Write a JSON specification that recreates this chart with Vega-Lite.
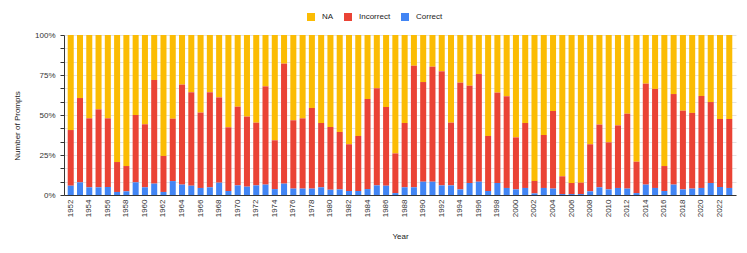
{
  "$schema": "https://vega.github.io/schema/vega-lite/v6.json",
  "width": 672,
  "height": 160,
  "autosize": {"type": "none"},
  "padding": {"left": 64, "top": 35, "right": 11, "bottom": 58},
  "background": "white",
  "config": {
    "font": "Liberation Sans",
    "view": {"stroke": null}
  },
  "data": {
    "values": [
      {"year": 1952, "Correct": 5.8, "Incorrect": 34.8, "NA": 59.4},
      {"year": 1953, "Correct": 7.9, "Incorrect": 52.7, "NA": 39.4},
      {"year": 1954, "Correct": 4.8, "Incorrect": 43.1, "NA": 52.1},
      {"year": 1955, "Correct": 4.8, "Incorrect": 48.7, "NA": 46.5},
      {"year": 1956, "Correct": 5.0, "Incorrect": 42.9, "NA": 52.1},
      {"year": 1957, "Correct": 1.9, "Incorrect": 18.7, "NA": 79.4},
      {"year": 1958, "Correct": 2.3, "Incorrect": 15.8, "NA": 81.9},
      {"year": 1959, "Correct": 7.9, "Incorrect": 42.1, "NA": 50.0},
      {"year": 1960, "Correct": 4.8, "Incorrect": 39.4, "NA": 55.8},
      {"year": 1961, "Correct": 7.1, "Incorrect": 64.8, "NA": 28.1},
      {"year": 1962, "Correct": 1.9, "Incorrect": 22.5, "NA": 75.6},
      {"year": 1963, "Correct": 8.7, "Incorrect": 39.0, "NA": 52.3},
      {"year": 1964, "Correct": 6.5, "Incorrect": 62.5, "NA": 31.0},
      {"year": 1965, "Correct": 5.8, "Incorrect": 58.4, "NA": 35.8},
      {"year": 1966, "Correct": 4.4, "Incorrect": 47.1, "NA": 48.5},
      {"year": 1967, "Correct": 4.8, "Incorrect": 59.4, "NA": 35.8},
      {"year": 1968, "Correct": 7.7, "Incorrect": 53.3, "NA": 39.0},
      {"year": 1969, "Correct": 2.5, "Incorrect": 39.8, "NA": 57.7},
      {"year": 1970, "Correct": 6.0, "Incorrect": 49.2, "NA": 44.8},
      {"year": 1971, "Correct": 5.2, "Incorrect": 43.8, "NA": 51.0},
      {"year": 1972, "Correct": 6.0, "Incorrect": 39.2, "NA": 54.8},
      {"year": 1973, "Correct": 6.5, "Incorrect": 61.4, "NA": 32.1},
      {"year": 1974, "Correct": 3.7, "Incorrect": 30.5, "NA": 65.8},
      {"year": 1975, "Correct": 7.1, "Incorrect": 75.0, "NA": 17.9},
      {"year": 1976, "Correct": 4.0, "Incorrect": 42.7, "NA": 53.3},
      {"year": 1977, "Correct": 4.0, "Incorrect": 43.9, "NA": 52.1},
      {"year": 1978, "Correct": 4.0, "Incorrect": 50.4, "NA": 45.6},
      {"year": 1979, "Correct": 4.8, "Incorrect": 40.2, "NA": 55.0},
      {"year": 1980, "Correct": 3.3, "Incorrect": 39.2, "NA": 57.5},
      {"year": 1981, "Correct": 3.5, "Incorrect": 35.9, "NA": 60.6},
      {"year": 1982, "Correct": 2.5, "Incorrect": 29.2, "NA": 68.3},
      {"year": 1983, "Correct": 2.5, "Incorrect": 34.4, "NA": 63.1},
      {"year": 1984, "Correct": 3.7, "Incorrect": 56.3, "NA": 40.0},
      {"year": 1985, "Correct": 6.0, "Incorrect": 60.7, "NA": 33.3},
      {"year": 1986, "Correct": 5.8, "Incorrect": 49.2, "NA": 45.0},
      {"year": 1987, "Correct": 1.2, "Incorrect": 24.8, "NA": 74.0},
      {"year": 1988, "Correct": 4.8, "Incorrect": 40.2, "NA": 55.0},
      {"year": 1989, "Correct": 4.8, "Incorrect": 76.0, "NA": 19.2},
      {"year": 1990, "Correct": 8.3, "Incorrect": 62.3, "NA": 29.4},
      {"year": 1991, "Correct": 8.3, "Incorrect": 71.9, "NA": 19.8},
      {"year": 1992, "Correct": 6.0, "Incorrect": 71.3, "NA": 22.7},
      {"year": 1993, "Correct": 6.0, "Incorrect": 39.2, "NA": 54.8},
      {"year": 1994, "Correct": 3.5, "Incorrect": 66.7, "NA": 29.8},
      {"year": 1995, "Correct": 7.5, "Incorrect": 60.8, "NA": 31.7},
      {"year": 1996, "Correct": 8.3, "Incorrect": 67.3, "NA": 24.4},
      {"year": 1997, "Correct": 2.5, "Incorrect": 34.4, "NA": 63.1},
      {"year": 1998, "Correct": 7.5, "Incorrect": 56.5, "NA": 36.0},
      {"year": 1999, "Correct": 4.4, "Incorrect": 57.3, "NA": 38.3},
      {"year": 2000, "Correct": 3.5, "Incorrect": 32.5, "NA": 64.0},
      {"year": 2001, "Correct": 4.4, "Incorrect": 40.6, "NA": 55.0},
      {"year": 2002, "Correct": 1.0, "Incorrect": 7.8, "NA": 91.2},
      {"year": 2003, "Correct": 4.4, "Incorrect": 33.1, "NA": 62.5},
      {"year": 2004, "Correct": 4.0, "Incorrect": 48.5, "NA": 47.5},
      {"year": 2005, "Correct": 0.6, "Incorrect": 11.1, "NA": 88.3},
      {"year": 2006, "Correct": 0.6, "Incorrect": 6.9, "NA": 92.5},
      {"year": 2007, "Correct": 0.6, "Incorrect": 7.1, "NA": 92.3},
      {"year": 2008, "Correct": 2.3, "Incorrect": 29.4, "NA": 68.3},
      {"year": 2009, "Correct": 4.8, "Incorrect": 39.2, "NA": 56.0},
      {"year": 2010, "Correct": 3.5, "Incorrect": 29.4, "NA": 67.1},
      {"year": 2011, "Correct": 4.4, "Incorrect": 39.1, "NA": 56.5},
      {"year": 2012, "Correct": 4.0, "Incorrect": 46.8, "NA": 49.2},
      {"year": 2013, "Correct": 1.2, "Incorrect": 19.6, "NA": 79.2},
      {"year": 2014, "Correct": 6.5, "Incorrect": 63.1, "NA": 30.4},
      {"year": 2015, "Correct": 4.4, "Incorrect": 61.9, "NA": 33.7},
      {"year": 2016, "Correct": 2.5, "Incorrect": 15.6, "NA": 81.9},
      {"year": 2017, "Correct": 6.5, "Incorrect": 56.6, "NA": 36.9},
      {"year": 2018, "Correct": 3.5, "Incorrect": 49.2, "NA": 47.3},
      {"year": 2019, "Correct": 4.0, "Incorrect": 47.3, "NA": 48.7},
      {"year": 2020, "Correct": 4.4, "Incorrect": 57.5, "NA": 38.1},
      {"year": 2021, "Correct": 7.5, "Incorrect": 50.6, "NA": 41.9},
      {"year": 2022, "Correct": 5.0, "Incorrect": 42.5, "NA": 52.5},
      {"year": 2023, "Correct": 4.4, "Incorrect": 43.1, "NA": 52.5}
    ]
  },
  "transform": [
    {"fold": ["NA", "Incorrect", "Correct"], "as": ["type", "value"]}
  ],
  "mark": {"type": "bar"},
  "encoding": {
    "x": {
      "field": "year",
      "type": "ordinal",
      "scale": {"paddingInner": 0.35, "paddingOuter": 0.4},
      "axis": {
        "title": "Year",
        "titleFontSize": 8,
        "titleFontWeight": "normal",
        "titleColor": "#222222",
        "titleY": 43,
        "titleBaseline": "alphabetic",
        "labelExpr": "datum.value % 2 == 0 ? datum.label : ''",
        "labelAngle": -90,
        "labelFontSize": 8,
        "labelColor": "#333333",
        "labelPadding": 4,
        "labelOverlap": false,
        "ticks": false,
        "domainColor": "#333333",
        "grid": false
      }
    },
    "y": {
      "field": "value",
      "type": "quantitative",
      "stack": "normalize",
      "scale": {"domain": [0, 1], "nice": false},
      "axis": {
        "title": "Number of Prompts",
        "titleFontSize": 8,
        "titleFontWeight": "normal",
        "titleColor": "#222222",
        "titleX": -44.5,
        "titleY": 90.5,
        "titleAlign": "center",
        "titleBaseline": "alphabetic",
        "values": [0, 0.083333, 0.166667, 0.25, 0.333333, 0.416667, 0.5, 0.583333, 0.666667, 0.75, 0.833333, 0.916667, 1],
        "labelExpr": "abs(datum.value * 4 - round(datum.value * 4)) < 0.001 ? format(datum.value, '.0%') : ''",
        "labelFontSize": 8,
        "labelColor": "#333333",
        "labelPadding": 5,
        "tickSize": 4,
        "tickColor": "#333333",
        "domainColor": "#333333",
        "gridColor": "#e3e3e3"
      }
    },
    "color": {
      "field": "type",
      "type": "nominal",
      "scale": {
        "domain": ["NA", "Incorrect", "Correct"],
        "range": ["#FBBC04", "#EA4335", "#4285F4"]
      },
      "legend": {
        "title": null,
        "orient": "none",
        "direction": "horizontal",
        "legendX": 243,
        "legendY": -22,
        "padding": 0,
        "symbolType": "square",
        "symbolSize": 64,
        "symbolStrokeWidth": 0,
        "labelFontSize": 8,
        "labelColor": "#222222",
        "labelOffset": 7,
        "columnPadding": 10
      }
    },
    "order": {"field": "type", "sort": "ascending"}
  }
}
